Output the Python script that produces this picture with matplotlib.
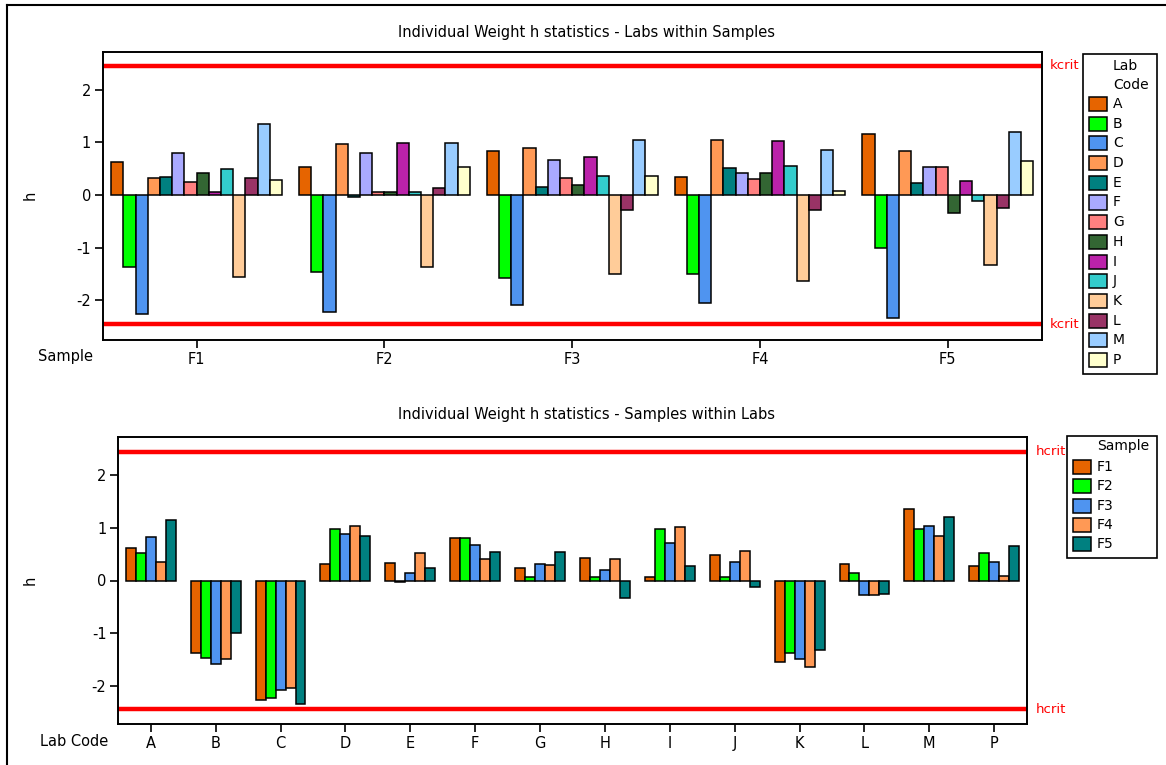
import numpy as np
import matplotlib
matplotlib.use("Agg")
import matplotlib.pyplot as plt
from matplotlib.patches import Rectangle

# h statistics per sample and lab
samples = ["F1", "F2", "F3", "F4", "F5"]
labs = ["A", "B", "C", "D", "E", "F", "G", "H", "I", "J", "K", "L", "M", "P"]

h_F1 = [0.62, -1.37, -2.26, 0.32, 0.34, 0.80, 0.24, 0.42, 0.06, 0.49, -1.55, 0.32, 1.35, 0.28]
h_F2 = [0.53, -1.46, -2.22, 0.97, -0.03, 0.80, 0.06, 0.06, 0.98, 0.06, -1.37, 0.14, 0.98, 0.53]
h_F3 = [0.83, -1.58, -2.08, 0.89, 0.15, 0.67, 0.32, 0.20, 0.72, 0.36, -1.49, -0.28, 1.04, 0.36]
h_F4 = [0.35, -1.49, -2.04, 1.04, 0.52, 0.41, 0.30, 0.41, 1.02, 0.56, -1.64, -0.28, 0.85, 0.08]
h_F5 = [1.15, -1.00, -2.34, 0.84, 0.23, 0.54, 0.54, -0.34, 0.27, -0.12, -1.32, -0.25, 1.20, 0.65]

kcrit = 2.45
hcrit = 2.44

lab_colors = ["#E66400", "#00FF00", "#4F94F0", "#FF9955", "#008080", "#AAAAFF", "#FF8080",
              "#336633", "#BB22AA", "#33CCCC", "#FFCC99", "#993366", "#99CCFF", "#FFFFCC"]
sample_colors = lab_colors[:5]

h = np.array([h_F1, h_F2, h_F3, h_F4, h_F5])  # rows: samples, cols: labs

plt.rcParams["font.family"] = "DejaVu Sans"
plt.rcParams["font.size"] = 10.5

W, H = 1166, 765
fig = plt.figure(figsize=(W / 100, H / 100), dpi=100)

def fx(px):
    return px / W

def fy(py):
    return 1 - py / H

def style_axes(ax):
    for s in ax.spines.values():
        s.set_linewidth(1.4)
    ax.tick_params(direction="out", length=5.5, width=1.2, pad=3)
    ax.set_yticks([-2, -1, 0, 1, 2])
    ax.set_yticklabels(["-2", "-1", "0", "1", "2"])

def key(title_lines, names, colors, x0, y0, x1, y1, px, ty, y_first, step):
    # boxed key drawn in pixel coordinates (origin top-left)
    fig.add_artist(Rectangle((fx(x0), fy(y1)), (x1 - x0) / W, (y1 - y0) / H,
                             transform=fig.transFigure, facecolor="none",
                             edgecolor="black", lw=1.2))
    for k, line in enumerate(title_lines):
        fig.text(fx(px + 24), fy(ty + 19 * k), line, ha="left", va="center", fontsize=10)
    for k, (n, c) in enumerate(zip(names, colors)):
        yc = y_first + step * k
        fig.add_artist(Rectangle((fx(px), fy(yc + 7)), 18 / W, 14 / H,
                                 transform=fig.transFigure, facecolor=c,
                                 edgecolor="black", lw=1.1))
        fig.text(fx(px + 24), fy(yc), n, ha="left", va="center", fontsize=10)

# ---- top: labs within samples ----
ax1 = fig.add_axes([fx(102.7), fy(340), 939 / W, 288.3 / H])
bw = 0.0649
x = np.arange(1, len(samples) + 1)
for j, lab in enumerate(labs):
    offs = (j - (len(labs) - 1) / 2) * bw
    ax1.bar(x + offs, h[:, j], width=bw, color=lab_colors[j],
            edgecolor="black", linewidth=1.1, label=lab)
ax1.axhline(kcrit, color="red", lw=3.2)
ax1.axhline(-kcrit, color="red", lw=3.2)
ax1.set_xlim(0.5, 5.5)
ax1.set_ylim(-2.75, 2.72)
ax1.set_xticks(x)
ax1.set_xticklabels(samples)
style_axes(ax1)
for yv in (kcrit, -kcrit):
    ax1.text(1.009, yv, "kcrit", color="red", va="center", ha="left", fontsize=9.5,
             transform=ax1.get_yaxis_transform())
fig.text(fx(586), fy(33), "Individual Weight h statistics - Labs within Samples",
         ha="center", va="center")
fig.text(fx(38), fy(357), "Sample", ha="left", va="center")
fig.text(fx(30), fy(195), "h", ha="center", va="center", rotation=90)

key(["Lab", "Code"], labs, lab_colors, 1083, 54, 1157, 374,
    px=1089, ty=66, y_first=104, step=19.7)

# ---- bottom: samples within labs ----
ax2 = fig.add_axes([fx(118.3), fy(724), 908.4 / W, 287 / H])
bw2 = 0.154
xl = np.arange(1, len(labs) + 1)
for i, s in enumerate(samples):
    offs = (i - (len(samples) - 1) / 2) * bw2
    ax2.bar(xl + offs, h[i], width=bw2, color=sample_colors[i],
            edgecolor="black", linewidth=1.1, label=s)
ax2.axhline(hcrit, color="red", lw=3.2)
ax2.axhline(-hcrit, color="red", lw=3.2)
ax2.set_xlim(0.5, 14.5)
ax2.set_ylim(-2.72, 2.72)
ax2.set_xticks(xl)
ax2.set_xticklabels(labs)
style_axes(ax2)
for yv in (hcrit, -hcrit):
    ax2.text(1.01, yv, "hcrit", color="red", va="center", ha="left", fontsize=9.5,
             transform=ax2.get_yaxis_transform())
fig.text(fx(586), fy(414), "Individual Weight h statistics - Samples within Labs",
         ha="center", va="center")
fig.text(fx(40), fy(742), "Lab Code", ha="left", va="center")
fig.text(fx(30), fy(580), "h", ha="center", va="center", rotation=90)

key(["Sample"], samples, sample_colors, 1067, 436, 1157, 558,
    px=1073, ty=446, y_first=466.7, step=19.4)

# outer frame edges
fig.add_artist(plt.Line2D([fx(6.5), fx(6.5)], [0, fy(5)], color="black", lw=1.5,
                          transform=fig.transFigure))
fig.add_artist(plt.Line2D([fx(6.5), 1], [fy(5), fy(5)], color="black", lw=1.5,
                          transform=fig.transFigure))

fig.savefig("out.png", dpi=100)
